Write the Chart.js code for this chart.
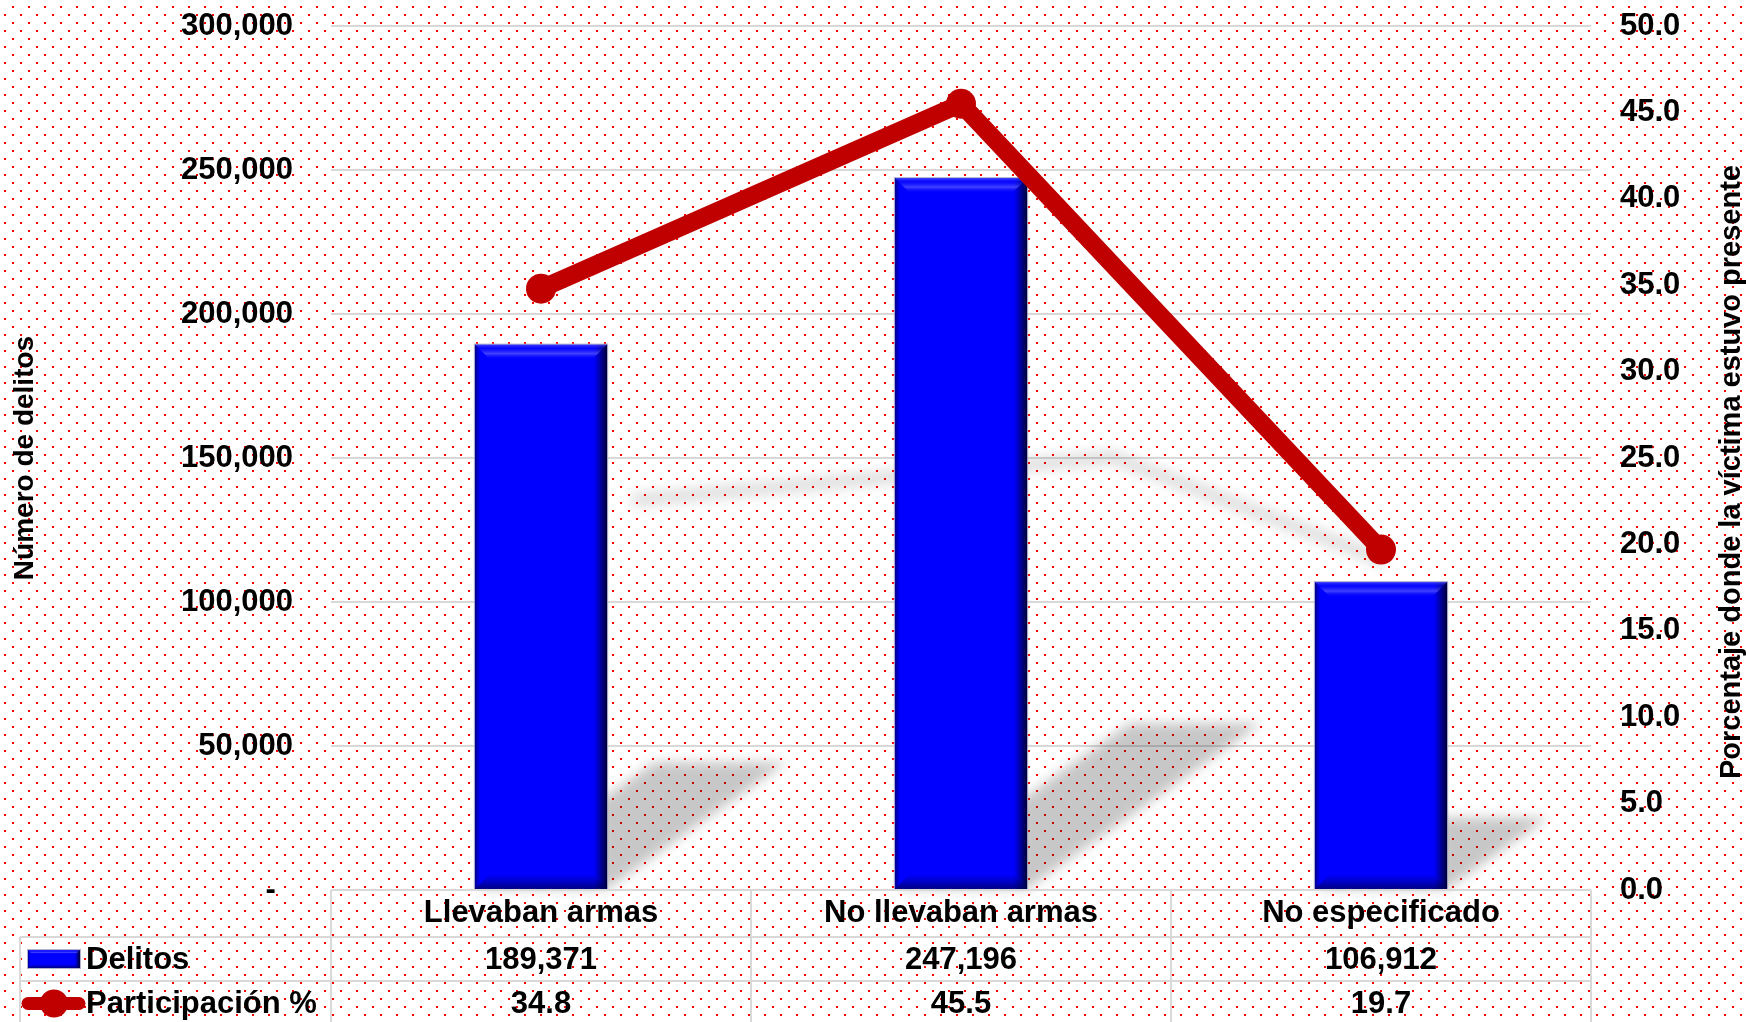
<!DOCTYPE html>
<html>
<head>
<meta charset="utf-8">
<title>Delitos por portación de armas</title>
<script src="https://cdn.jsdelivr.net/npm/chart.js@4.4.0/dist/chart.umd.min.js"></script>
<style>
  html, body { margin: 0; padding: 0; background: #fff; }
  canvas { display: block; }
</style>
</head>
<body>
<canvas id="chart" width="1746" height="1022"></canvas>
<script>
// Data
const categories = ["Llevaban armas", "No llevaban armas", "No especificado"];
const delitos = [189371, 247196, 106912];
const participacion = [34.8, 45.5, 19.7];
const seriesNames = ["Delitos", "Participación %"];
const leftTitle = "Número de delitos";
const rightTitle = "Porcentaje donde la víctima estuvo presente";
const leftMax = 300000, leftStep = 50000;
const rightMax = 50, rightStep = 5;

const FONT = "'Liberation Sans', Arial, sans-serif";
const BLUE = "#0000FF";
const RED = "#C00000";
const GRID = "#d9d9d9";

Chart.defaults.font.family = FONT;
Chart.defaults.font.weight = "bold";
Chart.defaults.font.size = 31;
Chart.defaults.color = "#000";

// dotted background tile
function dotPattern(ctx) {
    const c = document.createElement("canvas");
    c.width = 16;
    c.height = 16;
    const p = c.getContext("2d");
    p.fillStyle = "#fff";
    p.fillRect(0, 0, 16, 16);
    p.fillStyle = "#ff0000";
    p.fillRect(12, 6, 2, 2);
    p.fillRect(4, 14, 2, 2);
    return ctx.createPattern(c, "repeat");
}

// bevelled bar like the Excel style
function bevelBar(ctx, l, t, r, b, bv) {
    const h = b - t;
    bv = Math.min(bv, h / 2);
    ctx.save();
    ctx.fillStyle = BLUE;
    ctx.fillRect(l, t, r - l, h);

    let g = ctx.createLinearGradient(l, 0, r, 0);
    g.addColorStop(0, "rgba(0,0,90,0.7)");
    g.addColorStop(0.04, "rgba(0,0,90,0)");
    g.addColorStop(0.9, "rgba(0,0,60,0)");
    g.addColorStop(1, "rgba(0,0,40,0.95)");
    ctx.fillStyle = g;
    ctx.fillRect(l, t, r - l, h);

    // top bevel
    g = ctx.createLinearGradient(0, t, 0, t + bv);
    g.addColorStop(0, "rgba(90,90,255,0.7)");
    g.addColorStop(0.25, "rgba(20,20,255,0.3)");
    g.addColorStop(0.6, "rgba(120,120,255,0.55)");
    g.addColorStop(1, "rgba(0,0,255,0)");
    ctx.fillStyle = g;
    ctx.beginPath();
    ctx.moveTo(l, t);
    ctx.lineTo(r, t);
    ctx.lineTo(r - bv, t + bv);
    ctx.lineTo(l + bv, t + bv);
    ctx.closePath();
    ctx.fill();

    // bottom bevel
    g = ctx.createLinearGradient(0, b - bv, 0, b);
    g.addColorStop(0, "rgba(0,0,120,0)");
    g.addColorStop(1, "rgba(0,0,90,0.75)");
    ctx.fillStyle = g;
    ctx.beginPath();
    ctx.moveTo(l, b);
    ctx.lineTo(r, b);
    ctx.lineTo(r - bv, b - bv);
    ctx.lineTo(l + bv, b - bv);
    ctx.closePath();
    ctx.fill();

    ctx.strokeStyle = "rgba(170,170,200,0.9)";
    ctx.lineWidth = 1;
    ctx.strokeRect(l - 0.5, t - 0.5, r - l + 1, h + 1);
    ctx.restore();
}

const backgroundPlugin = {
    id: "dots",
    beforeDraw(chart) {
        const ctx = chart.ctx;
        ctx.save();
        ctx.fillStyle = dotPattern(ctx);
        ctx.fillRect(0, 0, chart.width, chart.height);
        ctx.restore();
    },
};

// perspective shadows behind bars and line
const shadowPlugin = {
    id: "shadows",
    beforeDatasetsDraw(chart) {
        const ctx = chart.ctx;
        ctx.save();
        ctx.filter = "blur(6px)";
        ctx.fillStyle = "rgba(0,0,0,0.22)";
        chart.getDatasetMeta(0).data.forEach((bar) => {
            const { x, y, base, width } = bar.getProps(["x", "y", "base", "width"], true);
            const h = base - y;
            const dx = 0.33 * h, dy = 0.233 * h;
            const l = x - width / 2, r = x + width / 2;
            ctx.beginPath();
            ctx.moveTo(l, base);
            ctx.lineTo(r, base);
            ctx.lineTo(r + dx, base - dy);
            ctx.lineTo(l + dx, base - dy);
            ctx.closePath();
            ctx.fill();
        });

        const pts = chart.getDatasetMeta(1).data;
        const bottom = Math.max(...pts.map((p) => p.y)) + 15;
        ctx.strokeStyle = "rgba(0,0,0,0.12)";
        ctx.lineWidth = 14;
        ctx.lineJoin = "round";
        ctx.beginPath();
        pts.forEach((p, i) => {
            const h = bottom - p.y;
            const sx = p.x + 0.33 * h, sy = bottom - 0.233 * h;
            if (i === 0) ctx.moveTo(sx, sy);
            else ctx.lineTo(sx, sy);
        });
        ctx.stroke();
        ctx.restore();
    },
    afterDatasetDraw(chart, args) {
        if (args.index !== 0) return;
        chart.getDatasetMeta(0).data.forEach((bar) => {
            const { x, y, base, width } = bar.getProps(["x", "y", "base", "width"], true);
            bevelBar(chart.ctx, x - width / 2, y, x + width / 2, base, 15);
        });
    },
};

// data table under the plot + right axis title
const tablePlugin = {
    id: "dataTable",
    afterDraw(chart) {
        const ctx = chart.ctx;
        const area = chart.chartArea;
        const xs = chart.scales.x;
        const top = area.bottom;
        const rows = [top, top + 47, top + 91, top + 136];
        const legendLeft = 20;
        const half = (xs.getPixelForValue(1) - xs.getPixelForValue(0)) / 2;

        ctx.save();
        ctx.strokeStyle = GRID;
        ctx.lineWidth = 2;
        ctx.beginPath();
        ctx.moveTo(area.left, rows[0]);
        ctx.lineTo(area.right, rows[0]);
        for (let i = 1; i < rows.length; i++) {
            ctx.moveTo(legendLeft, rows[i]);
            ctx.lineTo(area.right, rows[i]);
        }
        categories.forEach((c, i) => {
            const xl = xs.getPixelForValue(i) - half;
            ctx.moveTo(xl, rows[0]);
            ctx.lineTo(xl, rows[3]);
        });
        ctx.moveTo(area.right, rows[0]);
        ctx.lineTo(area.right, rows[3]);
        ctx.moveTo(legendLeft, rows[1]);
        ctx.lineTo(legendLeft, rows[3]);
        ctx.stroke();

        // legend keys
        const c1 = (rows[1] + rows[2]) / 2;
        const c2 = (rows[2] + rows[3]) / 2;
        bevelBar(ctx, 28, c1 - 9, 80, c1 + 9, 4);
        ctx.strokeStyle = RED;
        ctx.lineWidth = 13;
        ctx.lineCap = "round";
        ctx.beginPath();
        ctx.moveTo(28, c2);
        ctx.lineTo(79, c2);
        ctx.stroke();
        ctx.fillStyle = RED;
        ctx.beginPath();
        ctx.arc(54, c2, 14, 0, Math.PI * 2);
        ctx.fill();

        ctx.fillStyle = "#000";
        ctx.font = "bold 31px " + FONT;
        ctx.textBaseline = "middle";
        ctx.textAlign = "left";
        ctx.fillText(seriesNames[0], 86, c1 + 1);
        ctx.fillText(seriesNames[1], 86, c2 + 1);

        ctx.textAlign = "center";
        categories.forEach((c, i) => {
            const x = xs.getPixelForValue(i);
            ctx.fillText(delitos[i].toLocaleString("en-US"), x, c1 + 1);
            ctx.fillText(participacion[i].toFixed(1), x, c2 + 1);
        });

        // right axis title, reading bottom to top
        ctx.translate(1732, 165);
        ctx.rotate(-Math.PI / 2);
        ctx.textAlign = "right";
        ctx.font = "bold 29px " + FONT;
        ctx.fillText(rightTitle, 0, 0);
        ctx.restore();
    },
};

new Chart(document.getElementById("chart"), {
    data: {
        labels: categories,
        datasets: [
            {
                type: "bar",
                label: seriesNames[0],
                data: delitos,
                yAxisID: "y",
                backgroundColor: BLUE,
                borderWidth: 0,
                barPercentage: 0.315,
                categoryPercentage: 1,
                order: 1,
            },
            {
                type: "line",
                label: seriesNames[1],
                data: participacion,
                yAxisID: "y1",
                borderColor: RED,
                backgroundColor: RED,
                borderWidth: 18,
                borderJoinStyle: "round",
                pointRadius: 15,
                pointBackgroundColor: RED,
                pointBorderWidth: 0,
                tension: 0,
                order: 0,
            },
        ],
    },
    options: {
        responsive: false,
        animation: false,
        devicePixelRatio: 1,
        layout: { padding: { top: 26, left: 0, right: 0, bottom: 0 } },
        plugins: {
            legend: { display: false },
            tooltip: { enabled: false },
        },
        scales: {
            x: {
                offset: true,
                grid: { display: false, drawTicks: false },
                border: { display: false },
                ticks: { padding: 5, font: { size: 31 } },
                afterFit(scale) {
                    scale.height = 132;
                },
            },
            y: {
                position: "left",
                min: 0,
                max: leftMax,
                grid: { color: GRID, lineWidth: 2, drawTicks: false },
                border: { display: false },
                ticks: {
                    stepSize: leftStep,
                    padding: 38,
                    callback: (v) => (v === 0 ? "-  " : v.toLocaleString("en-US")),
                },
                title: {
                    display: true,
                    text: leftTitle,
                    font: { size: 28, lineHeight: 1 },
                    padding: { top: 11, bottom: 0 },
                },
                afterFit(scale) {
                    scale.width = 331;
                    scale.paddingTop = 0;
                    scale.paddingBottom = 0;
                },
            },
            y1: {
                position: "right",
                min: 0,
                max: rightMax,
                grid: { display: false, drawTicks: false },
                border: { display: false },
                ticks: {
                    stepSize: rightStep,
                    padding: 29,
                    callback: (v) => v.toFixed(1),
                },
                afterFit(scale) {
                    scale.width = 155;
                    scale.paddingTop = 0;
                    scale.paddingBottom = 0;
                },
            },
        },
    },
    plugins: [backgroundPlugin, shadowPlugin, tablePlugin],
});
</script>
</body>
</html>
